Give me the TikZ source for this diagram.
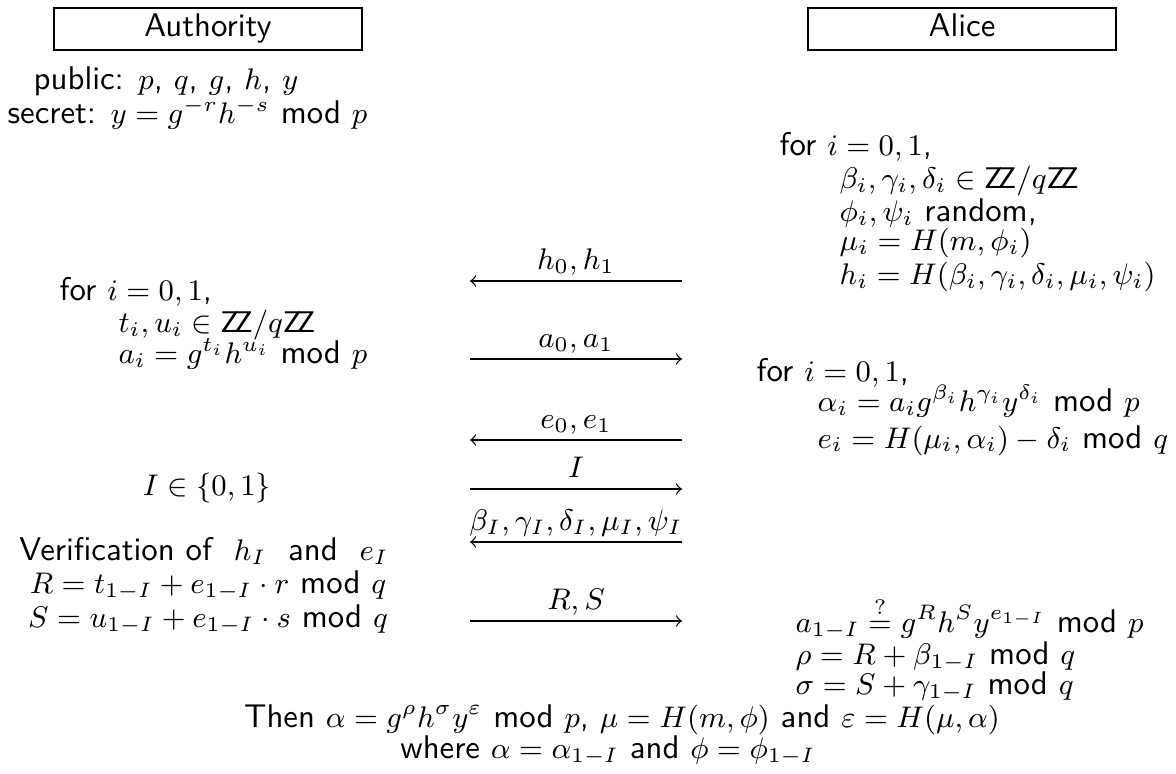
\RequirePackage{fix-cm}
\documentclass[tikz,border=0pt]{standalone}
\usepackage{amsmath}
\renewcommand{\familydefault}{\sfdefault}
% math a bit smaller than the sans text, sans digits in math
\DeclareMathSizes{10}{9.1}{6.4}{5}
\DeclareSymbolFont{sfdigits}{OT1}{lmss}{m}{n}
\DeclareMathSymbol{0}{\mathalpha}{sfdigits}{"30}
\DeclareMathSymbol{1}{\mathalpha}{sfdigits}{"31}
\newcommand{\Zset}{\mathsf{Z}\mkern-3mu\mathsf{Z}}

\begin{document}
\begin{tikzpicture}[x=0.305pt,y=-0.305pt,
    party/.style={draw, line width=0.6pt, minimum width=94pt, text height=8.4pt, text depth=3.6pt, inner ysep=0.5pt, anchor=base},
    row/.style={anchor=base west, inner sep=0pt},
    crow/.style={anchor=base, inner sep=0pt},
    msg/.style={thin,->},
    msglabel/.style={anchor=base, yshift=3.4pt}]
    \useasboundingbox (0,0) rectangle (1176,774);
    % strony protokolu
    \node[party] (auth) at (208,37) {Authority};
    \node[party] (alice) at (962,37) {Alice};
    % klucze
    \node[row] (keys1) at (33,90) {public: $p$, $q$, $g$, $h$, $y$};
    \node[row] (keys2) at (7,124) {secret: $y=g^{-r}h^{-s}$ mod $p$};
    % Alice: zobowiazania h_i
    \foreach \k/\xx/\yy/\txt in {1/779/156/{for $i=0,1$,},
            2/839/189/{$\beta_i,\gamma_i,\delta_i\in\Zset/q\Zset$},
            3/839/222/{$\phi_i,\psi_i$ random,},
            4/839/251/{$\mu_i=H(m,\phi_i)$},
            5/839/285/{$h_i=H(\beta_i,\gamma_i,\delta_i,\mu_i,\psi_i)$}}
        \node[row] (acommit\k) at (\xx,\yy) {\txt};
    % Authority: a_i
    \foreach \k/\xx/\yy/\txt in {1/59/301/{for $i=0,1$,},
            2/118/333/{$t_i,u_i\in\Zset/q\Zset$},
            3/118/364/{$a_i=g^{t_i}h^{u_i}$ mod $p$}}
        \node[row] (tcommit\k) at (\xx,\yy) {\txt};
    % Alice: zaslepianie
    \foreach \k/\xx/\yy/\txt in {1/756/382/{for $i=0,1$,},
            2/817/412/{$\alpha_i=a_ig^{\beta_i}h^{\gamma_i}y^{\delta_i}$ mod $p$},
            3/817/448/{$e_i=H(\mu_i,\alpha_i)-\delta_i$ mod $q$}}
        \node[row] (ablind\k) at (\xx,\yy) {\txt};
    % wybor I
    \node[crow] (choice) at (207,495) {$I\in\{0,1\}$};
    % Authority: weryfikacja i odpowiedz
    \node[crow] (verify1) at (204,560) {Verification of\ \ $h_I$\ \ and\ \ $e_I$};
    \node[crow] (verify2) at (208,593) {$R=t_{1-I}+e_{1-I}\cdot r$ mod $q$};
    \node[crow] (verify3) at (208,627) {$S=u_{1-I}+e_{1-I}\cdot s$ mod $q$};
    % Alice: sprawdzenie
    \node[row] (acheck1) at (795,632) {$a_{1-I}\stackrel{?}{=}g^Rh^Sy^{e_{1-I}}$ mod $p$};
    \node[row] (acheck2) at (795,664) {$\rho=R+\beta_{1-I}$ mod $q$};
    \node[row] (acheck3) at (795,694) {$\sigma=S+\gamma_{1-I}$ mod $q$};
    % podpis
    \node[crow] (result1) at (622,727) {Then $\alpha=g^\rho h^\sigma y^\varepsilon$ mod $p$, $\mu=H(m,\phi)$ and $\varepsilon=H(\mu,\alpha)$};
    \node[crow] (result2) at (608,758) {where $\alpha=\alpha_{1-I}$ and $\phi=\phi_{1-I}$};
    % wiadomosci (koniec strzalki -> druga strona)
    \foreach \nm/\yy/\from/\to/\lab in {hh/281/R/L/{h_0,h_1}, aa/359/L/R/{a_0,a_1}, ee/440/R/L/{e_0,e_1},
            ii/489/L/R/{I}, bb/542/R/L/{\beta_I,\gamma_I,\delta_I,\mu_I,\psi_I}, rs/621/L/R/{R,S}} {
        \coordinate (\nm L) at (470,\yy);
        \coordinate (\nm R) at (682,\yy);
        \draw[msg] (\nm\from) -- node[msglabel] {$\lab$} (\nm\to);
    }
\end{tikzpicture}
\end{document}
